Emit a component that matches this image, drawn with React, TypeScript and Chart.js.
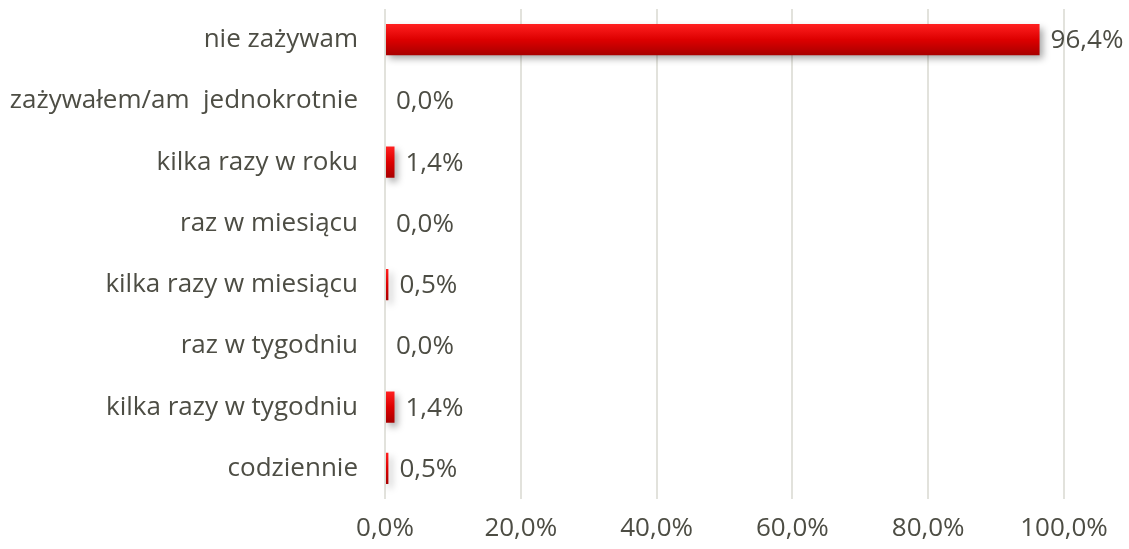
import React, { useEffect, useRef } from "react";
import { Chart, registerables } from "chart.js";

Chart.register(...registerables);

const categories = [
  "nie zażywam",
  "zażywałem/am  jednokrotnie",
  "kilka razy w roku",
  "raz w miesiącu",
  "kilka razy w miesiącu",
  "raz w tygodniu",
  "kilka razy w tygodniu",
  "codziennie",
];
const values = [96.4, 0.0, 1.4, 0.0, 0.5, 0.0, 1.4, 0.5];
const xTicks = [0, 20, 40, 60, 80, 100];

const TEXT = "#4d4d44";
const FONT = "'Open Sans', 'DejaVu Sans', sans-serif";
const FS = 26;

const fmt = (v: number, d = 1) => v.toFixed(d).replace(".", ",") + "%";

const shadowPlugin = {
  id: "barShadow",
  beforeDatasetDraw(chart: any) {
    const ctx = chart.ctx;
    ctx.save();
    ctx.shadowColor = "rgba(0,0,0,0.35)";
    ctx.shadowBlur = 7;
    ctx.shadowOffsetX = 3;
    ctx.shadowOffsetY = 4;
  },
  afterDatasetDraw(chart: any) {
    chart.ctx.restore();
  },
};

const labelPlugin = {
  id: "valueLabels",
  afterDatasetsDraw(chart: any) {
    const ctx = chart.ctx;
    const meta = chart.getDatasetMeta(0);
    ctx.save();
    ctx.font = `${FS}px ${FONT}`;
    ctx.fillStyle = TEXT;
    ctx.textAlign = "left";
    ctx.textBaseline = "middle";
    meta.data.forEach((bar: any, i: number) => {
      ctx.fillText(fmt(values[i]), bar.x + 11, bar.y + 1);
    });
    ctx.restore();
  },
};

export default function App() {
  const ref = useRef<HTMLCanvasElement>(null);
  useEffect(() => {
    if (!ref.current) return;
    const chart = new Chart(ref.current, {
      type: "bar",
      data: {
        labels: categories,
        datasets: [
          {
            data: values,
            barPercentage: 0.51,
            categoryPercentage: 1,
            borderWidth: 0,
            backgroundColor: (c: any) => {
              const ch = c.chart;
              const y = ch.scales?.y;
              if (!y || !ch.chartArea) return "#d90000";
              const cy = y.getPixelForValue(c.dataIndex);
              const h = ((ch.chartArea.bottom - ch.chartArea.top) / categories.length) * 0.51;
              const g = ch.ctx.createLinearGradient(0, cy - h / 2, 0, cy + h / 2);
              g.addColorStop(0, "#ff2020");
              g.addColorStop(0.5, "#dd0000");
              g.addColorStop(1, "#a80000");
              return g;
            },
          },
        ],
      },
      options: {
        indexAxis: "y",
        animation: false,
        responsive: false,
        maintainAspectRatio: false,
        layout: { padding: { top: 9, right: 65, left: 0, bottom: 0 } },
        plugins: { legend: { display: false }, tooltip: { enabled: false } },
        scales: {
          x: {
            min: 0,
            max: 100,
            afterBuildTicks: (s: any) => {
              s.ticks = xTicks.map((v) => ({ value: v }));
            },
            afterFit: (s: any) => {
              s.height = 50;
              s.paddingLeft = 0;
              s.paddingRight = 0;
            },
            ticks: {
              color: TEXT,
              font: { family: FONT, size: FS },
              padding: 14,
              maxRotation: 0,
              callback: (v: any) => fmt(Number(v)),
            },
            grid: { color: "#e2e2dc", lineWidth: 2, drawTicks: false },
            border: { display: false },
          },
          y: {
            afterFit: (s: any) => {
              s.width = 385;
              s.paddingTop = 0;
              s.paddingBottom = 0;
            },
            ticks: {
              color: TEXT,
              font: { family: FONT, size: FS },
              padding: 27,
            },
            grid: { display: false, drawTicks: false },
            border: { display: false },
          },
        },
      },
      plugins: [shadowPlugin, labelPlugin],
    } as any);
    return () => chart.destroy();
  }, []);
  return (
    <div style={{ position: "fixed", left: 0, top: 0, width: 1129, height: 549, background: "#fff" }}>
      <canvas ref={ref} width={1129} height={549} style={{ display: "block" }} />
    </div>
  );
}
